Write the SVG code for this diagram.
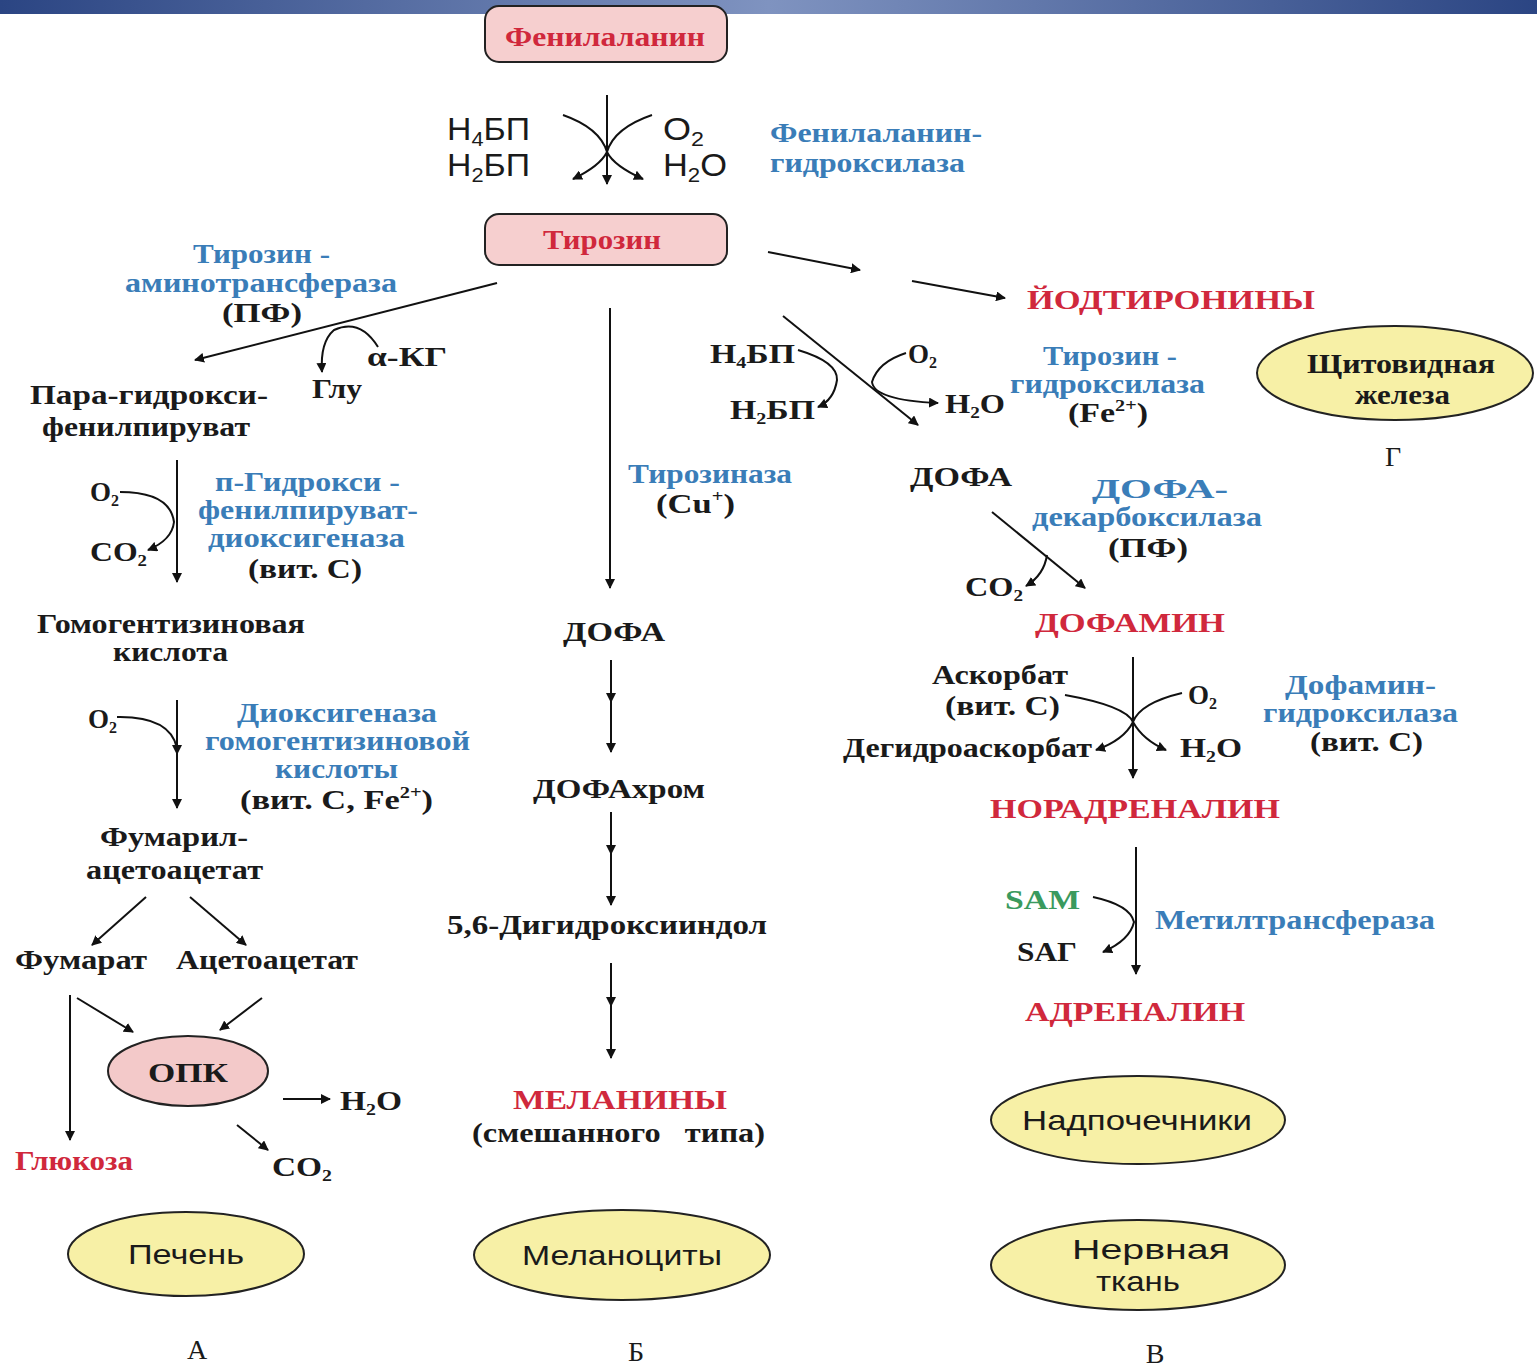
<svg xmlns="http://www.w3.org/2000/svg" width="1537" height="1368" viewBox="0 0 1537 1368">
<defs>
<linearGradient id="bar" x1="0" y1="0" x2="1" y2="0">
<stop offset="0" stop-color="#2b4583"/><stop offset="0.5" stop-color="#7f93c0"/><stop offset="1" stop-color="#2b4583"/>
</linearGradient>
<marker id="ah" viewBox="0 0 10 10" refX="9" refY="5" markerWidth="10" markerHeight="10" markerUnits="userSpaceOnUse" orient="auto">
<path d="M0,0 L10,5 L0,10 z" fill="#111"/>
</marker>
<marker id="mid" viewBox="0 0 10 10" refX="5" refY="5" markerWidth="10" markerHeight="10" markerUnits="userSpaceOnUse" orient="auto">
<path d="M0,0 L10,5 L0,10 z" fill="#111"/>
</marker>
</defs>
<style>
.t{font-family:"Liberation Serif","Times New Roman",serif;font-weight:bold;font-size:27px;fill:#1a1a1a}
.b{font-family:"Liberation Serif","Times New Roman",serif;font-weight:bold;font-size:27px;fill:#3a7db8}
.r{font-family:"Liberation Serif","Times New Roman",serif;font-weight:bold;font-size:28px;fill:#d0283c}
.s{font-family:"Liberation Sans",Arial,sans-serif;font-size:31px;fill:#1a1a1a}
.o{font-family:"Liberation Sans",Arial,sans-serif;font-size:28px;fill:#1a1a1a}
.g{font-family:"Liberation Serif","Times New Roman",serif;font-weight:bold;font-size:27px;fill:#3a9a5e}
.l{font-family:"Liberation Serif","Times New Roman",serif;font-size:28px;fill:#1a1a1a}
.c{stroke:#111;stroke-width:2;fill:none}
.a{stroke:#111;stroke-width:2;fill:none;marker-end:url(#ah)}
.box{fill:#f6cfcf;stroke:#222;stroke-width:2}
.org{fill:#f7f0a6;stroke:#222;stroke-width:2}
.sub{font-size:16px}
</style>
<rect width="1537" height="1368" fill="#fff"/>
<rect x="0" y="0" width="1537" height="14" fill="url(#bar)"/>

<g id="connectors">
<line class="a" x1="607" y1="95" x2="607" y2="184"/>
<path class="c" d="M563,115 Q600,128 607,152 Q614,128 652,115"/>
<path class="a" d="M607,152 Q600,166 573,179"/>
<path class="a" d="M607,152 Q614,166 643,179"/>
<line class="a" x1="768" y1="252" x2="860" y2="270"/>
<line class="a" x1="912" y1="281" x2="1005" y2="298"/>
<line class="a" x1="497" y1="283" x2="195" y2="360"/>
<path class="a" d="M378,347 Q360,318 334,330 Q320,342 322,372"/>
<line class="a" x1="177" y1="460" x2="177" y2="582"/>
<path class="a" d="M120,492 Q170,492 174,522 Q172,540 148,550"/>
<path class="c" d="M177,700 L177,750 L177,808" marker-mid="url(#mid)" marker-end="url(#ah)"/>
<path class="c" d="M117,717 Q170,716 177,748"/>
<line class="a" x1="146" y1="897" x2="92" y2="945"/>
<line class="a" x1="190" y1="897" x2="246" y2="945"/>
<line class="a" x1="70" y1="995" x2="70" y2="1140"/>
<line class="a" x1="77" y1="998" x2="133" y2="1032"/>
<line class="a" x1="262" y1="998" x2="220" y2="1030"/>
<line class="a" x1="283" y1="1099" x2="330" y2="1099"/>
<line class="a" x1="237" y1="1125" x2="268" y2="1150"/>
<line class="a" x1="610" y1="308" x2="610" y2="588"/>
<path class="c" d="M611,660 L611,698 L611,752" marker-mid="url(#mid)" marker-end="url(#ah)"/>
<path class="c" d="M611,812 L611,850 L611,905" marker-mid="url(#mid)" marker-end="url(#ah)"/>
<path class="c" d="M611,963 L611,1002 L611,1058" marker-mid="url(#mid)" marker-end="url(#ah)"/>
<line class="a" x1="783" y1="316" x2="918" y2="425"/>
<path class="a" d="M798,350 Q838,362 837,380 Q834,400 818,407"/>
<path class="a" d="M906,353 Q878,362 872,382 Q874,400 938,403"/>
<line class="a" x1="992" y1="512" x2="1085" y2="588"/>
<path class="a" d="M1047,555 Q1044,575 1026,586"/>
<line class="a" x1="1133" y1="657" x2="1133" y2="778"/>
<path class="c" d="M1065,695 Q1126,706 1133,722 Q1140,703 1182,693"/>
<path class="a" d="M1133,722 Q1124,740 1096,750"/>
<path class="a" d="M1133,722 Q1143,740 1166,750"/>
<line class="a" x1="1136" y1="847" x2="1136" y2="974"/>
<path class="a" d="M1093,897 Q1130,905 1134,922 Q1130,940 1103,952"/>
</g>

<g id="phenylalanine">
<rect class="box" x="485" y="6" width="242" height="56" rx="14"/>
<text class="r" x="605" y="46" text-anchor="middle" textLength="200" lengthAdjust="spacingAndGlyphs">Фенилаланин</text>
</g>
<g id="pah-cofactors">
<text class="s" x="447" y="140" textLength="83" lengthAdjust="spacingAndGlyphs">H<tspan dy="6" font-size="20">4</tspan><tspan dy="-6">БП</tspan></text>
<text class="s" x="447" y="176" textLength="83" lengthAdjust="spacingAndGlyphs">H<tspan dy="6" font-size="20">2</tspan><tspan dy="-6">БП</tspan></text>
<text class="s" x="663" y="140" textLength="41" lengthAdjust="spacingAndGlyphs">O<tspan dy="6" font-size="20">2</tspan></text>
<text class="s" x="663" y="176" textLength="64" lengthAdjust="spacingAndGlyphs">H<tspan dy="6" font-size="20">2</tspan><tspan dy="-6">O</tspan></text>
</g>
<g id="pah">
<text class="b" x="770" y="142" textLength="212" lengthAdjust="spacingAndGlyphs">Фенилаланин-</text>
<text class="b" x="770" y="172" textLength="195" lengthAdjust="spacingAndGlyphs">гидроксилаза</text>
</g>
<g id="tyrosine">
<rect class="box" x="485" y="214" width="242" height="51" rx="14"/>
<text class="r" x="602" y="249" text-anchor="middle" textLength="118" lengthAdjust="spacingAndGlyphs">Тирозин</text>
</g>
<g id="iodothyronines">
<text class="r" x="1027" y="309" textLength="288" lengthAdjust="spacingAndGlyphs">ЙОДТИРОНИНЫ</text>
</g>
<g id="thyroid">
<ellipse class="org" cx="1395" cy="373" rx="138" ry="47"/>
<text class="t" x="1307" y="373" textLength="188" lengthAdjust="spacingAndGlyphs">Щитовидная</text>
<text class="t" x="1355" y="404" textLength="95" lengthAdjust="spacingAndGlyphs">железа</text>
<text class="l" x="1393" y="466" text-anchor="middle">Г</text>
</g>

<g id="tat">
<text class="b" x="193" y="263" textLength="137" lengthAdjust="spacingAndGlyphs">Тирозин -</text>
<text class="b" x="125" y="292" textLength="272" lengthAdjust="spacingAndGlyphs">аминотрансфераза</text>
<text class="t" x="222" y="322" textLength="80" lengthAdjust="spacingAndGlyphs">(ПФ)</text>
<text class="t" x="367" y="366" textLength="80" lengthAdjust="spacingAndGlyphs">α-КГ</text>
<text class="t" x="312" y="398" textLength="50" lengthAdjust="spacingAndGlyphs">Глу</text>
</g>
<g id="phpp">
<text class="t" x="30" y="404" textLength="238" lengthAdjust="spacingAndGlyphs">Пара-гидрокси-</text>
<text class="t" x="42" y="436" textLength="208" lengthAdjust="spacingAndGlyphs">фенилпируват</text>
</g>
<g id="phpp-dioxygenase">
<text class="t" x="90" y="501">O<tspan class="sub" dy="5">2</tspan></text>
<text class="t" x="90" y="561" textLength="57" lengthAdjust="spacingAndGlyphs">CO<tspan class="sub" dy="5">2</tspan></text>
<text class="b" x="215" y="491" textLength="185" lengthAdjust="spacingAndGlyphs">п-Гидрокси -</text>
<text class="b" x="198" y="519" textLength="220" lengthAdjust="spacingAndGlyphs">фенилпируват-</text>
<text class="b" x="208" y="547" textLength="197" lengthAdjust="spacingAndGlyphs">диоксигеназа</text>
<text class="t" x="248" y="578" textLength="114" lengthAdjust="spacingAndGlyphs">(вит. С)</text>
</g>
<g id="homogentisate">
<text class="t" x="37" y="633" textLength="268" lengthAdjust="spacingAndGlyphs">Гомогентизиновая</text>
<text class="t" x="113" y="661" textLength="115" lengthAdjust="spacingAndGlyphs">кислота</text>
</g>
<g id="hgd">
<text class="t" x="88" y="728">O<tspan class="sub" dy="5">2</tspan></text>
<text class="b" x="237" y="722" textLength="200" lengthAdjust="spacingAndGlyphs">Диоксигеназа</text>
<text class="b" x="205" y="750" textLength="265" lengthAdjust="spacingAndGlyphs">гомогентизиновой</text>
<text class="b" x="275" y="778" textLength="123" lengthAdjust="spacingAndGlyphs">кислоты</text>
<text class="t" x="240" y="809" textLength="193" lengthAdjust="spacingAndGlyphs">(вит. С, Fe<tspan class="sub" dy="-11">2+</tspan><tspan dy="11">)</tspan></text>
</g>
<g id="fumarylacetoacetate">
<text class="t" x="100" y="846" textLength="148" lengthAdjust="spacingAndGlyphs">Фумарил-</text>
<text class="t" x="86" y="879" textLength="177" lengthAdjust="spacingAndGlyphs">ацетоацетат</text>
</g>
<g id="fumarate"><text class="t" x="15" y="969" textLength="132" lengthAdjust="spacingAndGlyphs">Фумарат</text></g>
<g id="acetoacetate"><text class="t" x="176" y="969" textLength="182" lengthAdjust="spacingAndGlyphs">Ацетоацетат</text></g>
<g id="tca">
<ellipse cx="188" cy="1071" rx="80" ry="35" fill="#f3c9c9" stroke="#222" stroke-width="2"/>
<text class="t" x="148" y="1082" textLength="80" lengthAdjust="spacingAndGlyphs">ОПК</text>
<text class="t" x="340" y="1110" textLength="62" lengthAdjust="spacingAndGlyphs">H<tspan class="sub" dy="5">2</tspan><tspan dy="-5">O</tspan></text>
<text class="t" x="272" y="1176" textLength="60" lengthAdjust="spacingAndGlyphs">CO<tspan class="sub" dy="5">2</tspan></text>
</g>
<g id="glucose"><text class="r" x="15" y="1170" textLength="118" lengthAdjust="spacingAndGlyphs">Глюкоза</text></g>
<g id="liver">
<ellipse class="org" cx="186" cy="1254" rx="118" ry="42"/>
<text class="o" x="128" y="1264" textLength="116" lengthAdjust="spacingAndGlyphs">Печень</text>
<text class="l" x="197" y="1359" text-anchor="middle">А</text>
</g>

<g id="tyrosinase">
<text class="b" x="628" y="483" textLength="164" lengthAdjust="spacingAndGlyphs">Тирозиназа</text>
<text class="t" x="656" y="513" textLength="79" lengthAdjust="spacingAndGlyphs">(Cu<tspan class="sub" dy="-11">+</tspan><tspan dy="11">)</tspan></text>
</g>
<g id="dopa-m"><text class="t" x="563" y="641" textLength="102" lengthAdjust="spacingAndGlyphs">ДОФА</text></g>
<g id="dopachrome"><text class="t" x="533" y="798" textLength="172" lengthAdjust="spacingAndGlyphs">ДОФАхром</text></g>
<g id="dihydroxyindole"><text class="t" x="447" y="934" textLength="320" lengthAdjust="spacingAndGlyphs">5,6-Дигидроксииндол</text></g>
<g id="melanins">
<text class="r" x="513" y="1109" textLength="214" lengthAdjust="spacingAndGlyphs">МЕЛАНИНЫ</text>
<text class="t" x="472" y="1142" textLength="293" lengthAdjust="spacingAndGlyphs" xml:space="preserve">(смешанного   типа)</text>
</g>
<g id="melanocytes">
<ellipse class="org" cx="622" cy="1255" rx="148" ry="45"/>
<text class="o" x="522" y="1265" textLength="200" lengthAdjust="spacingAndGlyphs">Меланоциты</text>
<text class="l" x="636" y="1361" text-anchor="middle">Б</text>
</g>

<g id="th">
<text class="t" x="710" y="363" textLength="85" lengthAdjust="spacingAndGlyphs">H<tspan class="sub" dy="5">4</tspan><tspan dy="-5">БП</tspan></text>
<text class="t" x="730" y="419" textLength="85" lengthAdjust="spacingAndGlyphs">H<tspan class="sub" dy="5">2</tspan><tspan dy="-5">БП</tspan></text>
<text class="t" x="908" y="363">O<tspan class="sub" dy="5">2</tspan></text>
<text class="t" x="945" y="413" textLength="60" lengthAdjust="spacingAndGlyphs">H<tspan class="sub" dy="5">2</tspan><tspan dy="-5">O</tspan></text>
<text class="b" x="1043" y="365" textLength="134" lengthAdjust="spacingAndGlyphs">Тирозин -</text>
<text class="b" x="1010" y="393" textLength="195" lengthAdjust="spacingAndGlyphs">гидроксилаза</text>
<text class="t" x="1068" y="422" textLength="80" lengthAdjust="spacingAndGlyphs">(Fe<tspan class="sub" dy="-11">2+</tspan><tspan dy="11">)</tspan></text>
</g>
<g id="dopa-r"><text class="t" x="910" y="486" textLength="102" lengthAdjust="spacingAndGlyphs">ДОФА</text></g>
<g id="ddc">
<text class="b" x="1092" y="498" textLength="136" lengthAdjust="spacingAndGlyphs">ДОФА-</text>
<text class="b" x="1032" y="526" textLength="230" lengthAdjust="spacingAndGlyphs">декарбоксилаза</text>
<text class="t" x="1108" y="557" textLength="80" lengthAdjust="spacingAndGlyphs">(ПФ)</text>
<text class="t" x="965" y="596" textLength="58" lengthAdjust="spacingAndGlyphs">CO<tspan class="sub" dy="5">2</tspan></text>
</g>
<g id="dopamine"><text class="r" x="1035" y="632" textLength="190" lengthAdjust="spacingAndGlyphs">ДОФАМИН</text></g>
<g id="dbh">
<text class="t" x="932" y="684" textLength="136" lengthAdjust="spacingAndGlyphs">Аскорбат</text>
<text class="t" x="945" y="715" textLength="115" lengthAdjust="spacingAndGlyphs">(вит. С)</text>
<text class="t" x="843" y="757" textLength="249" lengthAdjust="spacingAndGlyphs">Дегидроаскорбат</text>
<text class="t" x="1188" y="704">O<tspan class="sub" dy="5">2</tspan></text>
<text class="t" x="1180" y="757" textLength="62" lengthAdjust="spacingAndGlyphs">H<tspan class="sub" dy="5">2</tspan><tspan dy="-5">O</tspan></text>
<text class="b" x="1285" y="694" textLength="151" lengthAdjust="spacingAndGlyphs">Дофамин-</text>
<text class="b" x="1263" y="722" textLength="195" lengthAdjust="spacingAndGlyphs">гидроксилаза</text>
<text class="t" x="1310" y="751" textLength="113" lengthAdjust="spacingAndGlyphs">(вит. С)</text>
</g>
<g id="noradrenaline"><text class="r" x="990" y="818" textLength="290" lengthAdjust="spacingAndGlyphs">НОРАДРЕНАЛИН</text></g>
<g id="pnmt">
<text class="g" x="1005" y="909" textLength="75" lengthAdjust="spacingAndGlyphs">SAM</text>
<text class="t" x="1017" y="961" textLength="60" lengthAdjust="spacingAndGlyphs">SAГ</text>
<text class="b" x="1155" y="929" textLength="280" lengthAdjust="spacingAndGlyphs">Метилтрансфераза</text>
</g>
<g id="adrenaline"><text class="r" x="1025" y="1021" textLength="220" lengthAdjust="spacingAndGlyphs">АДРЕНАЛИН</text></g>
<g id="adrenals">
<ellipse class="org" cx="1138" cy="1120" rx="147" ry="44"/>
<text class="o" x="1022" y="1130" textLength="230" lengthAdjust="spacingAndGlyphs">Надпочечники</text>
</g>
<g id="nervous">
<ellipse class="org" cx="1138" cy="1265" rx="147" ry="45"/>
<text class="o" x="1072" y="1259" textLength="158" lengthAdjust="spacingAndGlyphs">Нервная</text>
<text class="o" x="1096" y="1291" textLength="84" lengthAdjust="spacingAndGlyphs">ткань</text>
<text class="l" x="1155" y="1363" text-anchor="middle">В</text>
</g>
</svg>
